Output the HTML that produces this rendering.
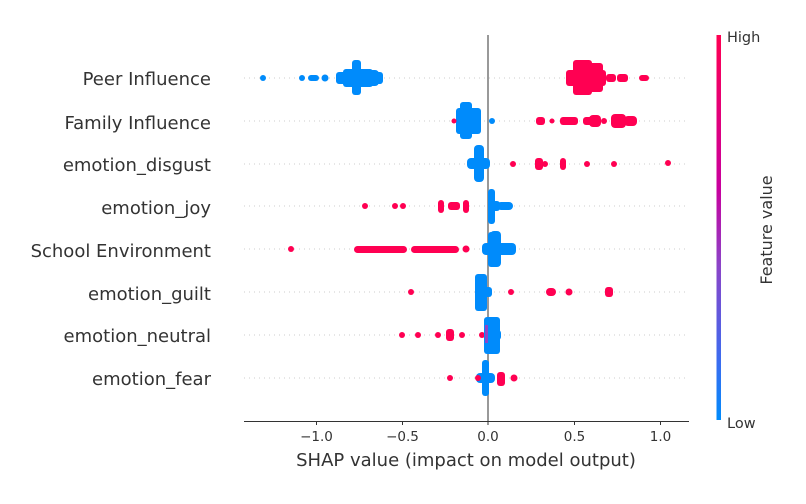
<!DOCTYPE html>
<html><head><meta charset="utf-8"><style>
html,body{margin:0;padding:0;background:#fff;}
svg text{font-family:"DejaVu Sans","Liberation Sans",sans-serif;fill:#333;}
</style></head><body>
<svg width="806" height="499" viewBox="0 0 806 499" xmlns="http://www.w3.org/2000/svg">
<defs>
<linearGradient id="cb" x1="0" y1="0" x2="0" y2="1">
<stop offset="0" stop-color="#ff0052"/>
<stop offset="0.4" stop-color="#c8009e"/>
<stop offset="0.6" stop-color="#8b44c8"/>
<stop offset="0.85" stop-color="#3a6cf0"/>
<stop offset="1" stop-color="#008bfb"/>
</linearGradient>
</defs>
<g stroke="#ccc" stroke-width="1" stroke-dasharray="1,4">
<line x1="244" y1="78" x2="688" y2="78"/>
<line x1="244" y1="121" x2="688" y2="121"/>
<line x1="244" y1="164" x2="688" y2="164"/>
<line x1="244" y1="206" x2="688" y2="206"/>
<line x1="244" y1="249" x2="688" y2="249"/>
<line x1="244" y1="292" x2="688" y2="292"/>
<line x1="244" y1="335" x2="688" y2="335"/>
<line x1="244" y1="378" x2="688" y2="378"/>
</g>
<line x1="488" y1="35" x2="488" y2="421" stroke="#999" stroke-width="2"/>
<g fill="#008bfb">
<circle cx="263" cy="78" r="3"/><circle cx="302" cy="78" r="3"/>
<rect x="308" y="75" width="11" height="6" rx="3"/><circle cx="325" cy="78" r="3.5"/>
<rect x="336" y="72" width="47" height="12" rx="3"/>
<rect x="343" y="69" width="30" height="18" rx="3"/>
<rect x="352" y="60" width="9" height="35" rx="3"/>
<rect x="364" y="70" width="15" height="16" rx="4"/>
</g>
<g fill="#ff0052">
<rect x="566" y="70" width="40" height="16" rx="3"/>
<rect x="573" y="60" width="19" height="35" rx="3"/>
<rect x="580" y="63" width="23" height="29" rx="3"/>
<rect x="606" y="74" width="10" height="8" rx="3"/><rect x="617" y="74" width="11" height="8" rx="3"/>
<rect x="639" y="75" width="10" height="6" rx="3"/>
</g>
<g fill="#008bfb">
<rect x="456" y="108" width="25" height="26" rx="3"/>
<rect x="460" y="102" width="12" height="37" rx="3"/>
<rect x="475" y="110" width="6" height="22" rx="3"/>
<circle cx="492" cy="121" r="3"/>
</g>
<g fill="#ff0052">
<circle cx="454" cy="121" r="2.5"/>
<rect x="536" y="117" width="9" height="8" rx="3"/><circle cx="552" cy="121" r="2.5"/>
<rect x="560" y="117" width="18" height="8" rx="3"/><rect x="583" y="117" width="12" height="8" rx="3"/>
<rect x="589" y="115" width="12" height="12" rx="4"/><circle cx="604" cy="121" r="3"/>
<rect x="611" y="114" width="15" height="14" rx="4"/><rect x="624" y="116" width="13" height="10" rx="4"/>
</g>
<g fill="#008bfb">
<rect x="467" y="158" width="23" height="11" rx="4"/>
<rect x="474" y="145" width="10" height="37" rx="4"/>
</g>
<g fill="#ff0052">
<circle cx="513" cy="164" r="3"/>
<rect x="535" y="158" width="8" height="12" rx="3"/><circle cx="545" cy="164" r="3"/>
<rect x="560" y="158" width="6" height="12" rx="3"/>
<circle cx="587" cy="164" r="3"/><circle cx="614" cy="164" r="3"/><circle cx="668" cy="163" r="3"/>
</g>
<g fill="#ff0052">
<circle cx="365" cy="206" r="3"/><circle cx="395" cy="206" r="3"/><circle cx="403" cy="206" r="3"/>
<rect x="438" y="200" width="6" height="13" rx="3"/><rect x="448" y="202" width="12" height="8" rx="3"/>
<rect x="463" y="200" width="6" height="13" rx="3"/>
</g>
<g fill="#008bfb">
<rect x="488" y="189" width="7" height="35" rx="3"/>
<rect x="488" y="201" width="12" height="10" rx="3"/>
<rect x="497" y="202" width="16" height="8" rx="4"/>
<rect x="488" y="232" width="9" height="35" rx="3"/>
</g>
<g fill="#ff0052">
<circle cx="291" cy="249" r="3"/>
<rect x="354" y="246" width="53" height="7" rx="3.5"/><circle cx="418" cy="249" r="3"/>
<circle cx="429" cy="249" r="3"/>
<rect x="411" y="246" width="48" height="7" rx="3.5"/><circle cx="453" cy="249" r="3"/>
<circle cx="466" cy="249" r="3.5"/>
</g>
<g fill="#008bfb">
<rect x="482" y="243" width="34" height="12" rx="4"/>
<rect x="490" y="231" width="11" height="36" rx="4"/>
</g>
<g fill="#ff0052">
<circle cx="411" cy="292" r="3"/><circle cx="511" cy="292" r="3"/>
<rect x="546" y="288" width="10" height="8" rx="4"/><circle cx="569" cy="292" r="3.5"/>
<rect x="605" y="287" width="8" height="10" rx="3"/>
</g>
<g fill="#008bfb">
<rect x="475" y="274" width="12" height="37" rx="3"/>
<rect x="475" y="287" width="17" height="10" rx="3"/>
</g>
<g fill="#ff0052">
<circle cx="402" cy="335" r="3"/><circle cx="418" cy="335" r="3"/><circle cx="438" cy="335" r="3"/>
<rect x="446" y="329" width="8" height="12" rx="3"/><circle cx="462" cy="335" r="3"/><circle cx="482" cy="335" r="3"/>
</g>
<g fill="#008bfb">
<rect x="484" y="317" width="16" height="37" rx="3"/>
<rect x="484" y="330" width="17" height="10" rx="3"/>
</g>
<rect x="485" y="325" width="3" height="18" fill="#8b44c8"/>
<g fill="#ff0052">
<circle cx="450" cy="378" r="3"/>
<rect x="497" y="372" width="8" height="14" rx="3"/><circle cx="514" cy="378" r="3.5"/>
</g>
<g fill="#008bfb">
<rect x="476" y="373" width="19" height="10" rx="4"/>
<rect x="482" y="360" width="7" height="36" rx="3"/>
</g>
<circle cx="478" cy="378" r="3" fill="#ff0052"/>
<line x1="244" y1="421.5" x2="689" y2="421.5" stroke="#333" stroke-width="1"/>
<g stroke="#333" stroke-width="1">
<line x1="316.5" y1="421" x2="316.5" y2="425"/>
<line x1="402.5" y1="421" x2="402.5" y2="425"/>
<line x1="488" y1="421" x2="488" y2="425"/>
<line x1="574.5" y1="421" x2="574.5" y2="425"/>
<line x1="660.5" y1="421" x2="660.5" y2="425"/>
</g>
<g font-size="13.5" text-anchor="middle">
<text x="316.5" y="441">−1.0</text>
<text x="402.5" y="441">−0.5</text>
<text x="488" y="441">0.0</text>
<text x="574.5" y="441">0.5</text>
<text x="660.5" y="441">1.0</text>
</g>
<text x="466" y="466" font-size="18" text-anchor="middle">SHAP value (impact on model output)</text>
<g font-size="18" text-anchor="end">
<text x="211" y="85">Peer Influence</text>
<text x="211" y="129">Family Influence</text>
<text x="211" y="171">emotion_disgust</text>
<text x="211" y="214">emotion_joy</text>
<text x="211" y="257">School Environment</text>
<text x="211" y="300">emotion_guilt</text>
<text x="211" y="342">emotion_neutral</text>
<text x="211" y="385">emotion_fear</text>
</g>
<rect x="716.5" y="35" width="4.5" height="385" fill="url(#cb)"/>
<text x="727" y="42" font-size="14.5">High</text>
<text x="727" y="428" font-size="14.5">Low</text>
<text transform="translate(772,230) rotate(-90)" font-size="16" text-anchor="middle">Feature value</text>
</svg>
</body></html>
